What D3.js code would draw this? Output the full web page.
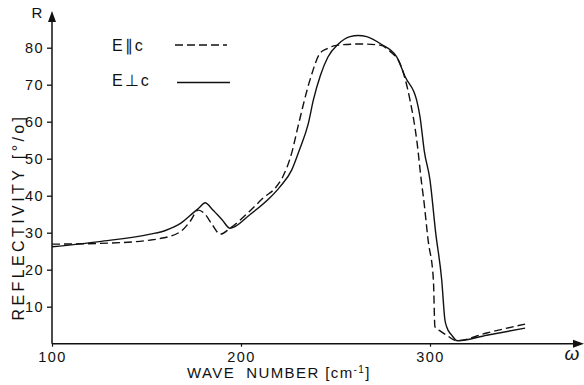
<!DOCTYPE html>
<html><head><meta charset="utf-8">
<script src="https://cdn.jsdelivr.net/npm/d3@7/dist/d3.min.js"></script>
<style>
html,body{margin:0;padding:0;background:#fff;}
text{font-family:"Liberation Sans",Arial,sans-serif;fill:#111;}
</style></head>
<body><svg id="c" width="584" height="385"></svg>
<script>
// ---- data ----
const xTicks = [100, 200, 300];
const yTicks = [10, 20, 30, 40, 50, 60, 70, 80];
const seriesNames = ["E\u2225c", "E\u22A5c"];
// E parallel c (dashed)
const parWave = [100, 125, 152, 157, 168, 173, 177.4, 181, 185, 189, 194.2, 205, 212, 218, 222, 226.8, 230.3, 236.5, 241.8, 245, 251.5, 263, 273.5, 280, 283.2, 289.4, 293, 295.6, 296.5, 299, 301.8, 302.6, 305.5, 308.8, 314, 330, 350.3];
const parR    = [26.9, 27.1, 28.0, 28.4, 30.3, 33.0, 36.1, 35.0, 32.0, 29.6, 31.2, 36.0, 39.5, 42.0, 45.0, 51.5, 59.0, 71.3, 78.5, 79.6, 80.7, 81.0, 80.7, 78.5, 76.7, 65.9, 55.0, 43.2, 39.7, 28.0, 17.2, 4.6, 3.4, 2.3, 0.8, 2.9, 5.3];
// E perpendicular c (solid)
const perWave = [100, 125, 152, 160, 168, 175, 178, 181, 185, 190, 194.2, 205, 215, 220.6, 226.8, 231, 235.6, 238.3, 242, 246, 251.5, 257.7, 262, 266.5, 274, 282.3, 287, 292.9, 294.7, 297, 300, 303, 306.2, 307.9, 308.8, 311.5, 314.5, 330, 350.3];
const perR    = [26.2, 27.6, 29.6, 30.6, 32.5, 35.5, 36.8, 38.1, 36.2, 33.5, 31.2, 35.0, 39.3, 42.4, 46.9, 52.5, 59.5, 65.9, 72.5, 77.5, 81.0, 83.0, 83.3, 83.0, 81.0, 77.6, 72.0, 65.9, 61.4, 52.0, 44.2, 30.0, 17.2, 6.4, 4.6, 2.3, 0.8, 2.3, 4.2];

const svg = d3.select("#c");
const x = d3.scaleLinear().domain([100, 300]).range([52, 430]);
const y = d3.scaleLinear().domain([0, 80]).range([343.7, 47.7]);
const x0 = 52, y0 = 343.7;

// axes lines
const ax = svg.append("g").attr("stroke", "#111").attr("stroke-width", 1.5);
ax.append("line").attr("x1", x0).attr("x2", 576).attr("y1", y0).attr("y2", y0);
ax.append("line").attr("x1", x0).attr("x2", x0).attr("y1", y0).attr("y2", 20);
svg.append("path").attr("d", `M584,${y0} L573,${y0-4} L573,${y0+4} Z`).attr("fill", "#111");
svg.append("path").attr("d", `M${x0},11 L${x0-4},22 L${x0+4},22 Z`).attr("fill", "#111");

// y axis ticks
const gy = svg.append("g").attr("transform", `translate(${x0},0)`)
  .call(d3.axisLeft(y).tickValues(yTicks).tickSize(5).tickPadding(3).tickFormat(d3.format("d")));
gy.select(".domain").remove();
gy.selectAll(".tick line").attr("stroke", "#111").attr("stroke-width", 1.3);
gy.selectAll(".tick text").attr("font-size", 14.5).attr("letter-spacing", "1.4px")
  .attr("font-family", "Liberation Sans, Arial, sans-serif").attr("fill", "#111").attr("dy", "0.36em");

// x axis ticks
const gx = svg.append("g").attr("transform", `translate(0,${y0})`)
  .call(d3.axisBottom(x).tickValues(xTicks).tickSize(3).tickPadding(5).tickFormat(d3.format("d")));
gx.select(".domain").remove();
gx.selectAll(".tick line").attr("stroke", "#111").attr("stroke-width", 1.2);
gx.selectAll(".tick text").attr("font-size", 14.5).attr("letter-spacing", "1.4px")
  .attr("font-family", "Liberation Sans, Arial, sans-serif").attr("fill", "#111");

// axis labels
svg.append("text").attr("x", 37).attr("y", 18).attr("font-size", 15).attr("text-anchor", "middle").text("R");
svg.append("text").attr("x", 572).attr("y", 360).attr("font-size", 19).attr("font-style", "italic")
  .attr("font-family", "DejaVu Serif, serif").attr("text-anchor", "middle").text("\u03C9");
const xl = svg.append("text").attr("x", 187).attr("y", 378).attr("font-size", 15)
  .attr("letter-spacing", "1.4px").style("white-space", "pre");
xl.append("tspan").text("WAVE  NUMBER [cm");
xl.append("tspan").attr("dy", -5).attr("font-size", 10).text("-1");
xl.append("tspan").attr("dy", 5).text("]");
svg.append("text").attr("transform", "translate(24,217) rotate(-90)").attr("font-size", 16)
  .attr("letter-spacing", "3.4px").attr("text-anchor", "middle").text("REFLECTIVITY [°/o]");

// curves
const line = d3.line().x(d => x(d[0])).y(d => y(d[1])).curve(d3.curveMonotoneX);
const par = parWave.map((v, i) => [v, parR[i]]);
const per = perWave.map((v, i) => [v, perR[i]]);
svg.append("path").attr("d", line(par)).attr("fill", "none").attr("stroke", "#111")
  .attr("stroke-width", 1.4).attr("stroke-dasharray", "8,4");
svg.append("path").attr("d", line(per)).attr("fill", "none").attr("stroke", "#111")
  .attr("stroke-width", 1.4);

// legend
const lg = svg.append("g");
lg.append("text").attr("x", 112).attr("y", 51).attr("font-size", 16).attr("letter-spacing", "2px").text(seriesNames[0]);
lg.append("line").attr("x1", 175).attr("x2", 227).attr("y1", 45).attr("y2", 45)
  .attr("stroke", "#111").attr("stroke-width", 1.4).attr("stroke-dasharray", "8,4");
lg.append("text").attr("x", 112).attr("y", 86).attr("font-size", 16).attr("letter-spacing", "2px").text(seriesNames[1]);
lg.append("line").attr("x1", 177).attr("x2", 230).attr("y1", 82.5).attr("y2", 82.5)
  .attr("stroke", "#111").attr("stroke-width", 1.4);
</script></body></html>
